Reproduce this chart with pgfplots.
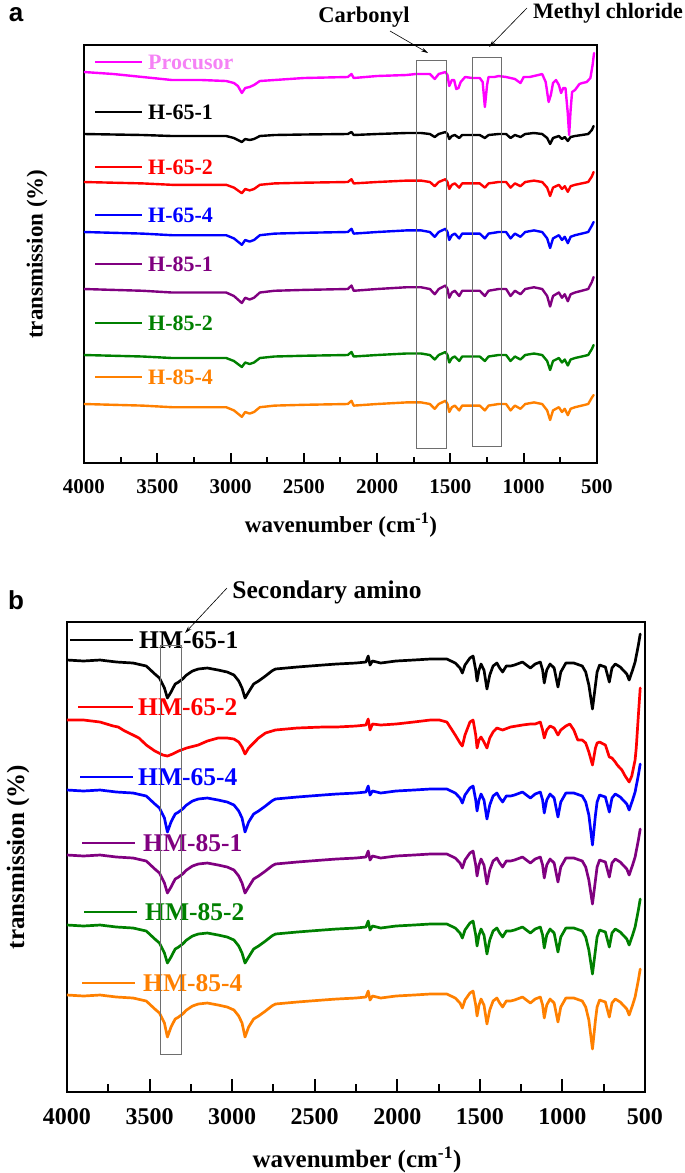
\documentclass[border=0pt]{standalone}
\usepackage{fontspec}
\setmainfont{Liberation Serif}
\newfontfamily\arialfont{Liberation Sans}
\usepackage{pgfplots}
\pgfplotsset{compat=1.18}
\usepackage{pgfplotstable}
\usetikzlibrary{arrows.meta}

\definecolor{cMag}{RGB}{255,0,255}
\definecolor{cMagTxt}{RGB}{245,130,245}
\definecolor{cRed}{RGB}{255,0,0}
\definecolor{cBlue}{RGB}{0,0,255}
\definecolor{cPur}{RGB}{128,0,128}
\definecolor{cGrn}{RGB}{0,128,0}
\definecolor{cOra}{RGB}{255,128,0}
\definecolor{cBox}{RGB}{110,110,110}

% panel a: y is the pixel row of the curve (axis runs top to bottom)
\pgfplotstableread{
w p
4000 72
3800 74
3600 77
3400 80
3200 80
3030 81
2977 83
2950 86
2923 93
2900 88
2870 87
2840 85
2800 81
2700 80
2500 78
2200 77
2175 74
2160 78
2000 76
1800 75
1737 74
1640 74
1607 79
1580 74
1534 72
1520 75
1508 86
1490 80
1475 80
1460 89
1445 88
1430 82
1400 77
1350 78
1300 78
1280 82
1265 107
1250 85
1240 77
1200 77
1171 76
1120 77
1090 78
1060 79
1022 83
1000 77
960 77
900 75
874 74
850 82
830 102
815 95
800 83
780 80
760 85
745 93
730 88
715 88
700 112
690 135
680 110
670 92
650 90
620 84
600 83
570 82
545 78
530 65
520 53
}\tabP

\pgfplotstableread{
w h1 h2 h3 h4 h5 h6
4000 134 182 232 289 355 404
3800 134.5 182.7 232.8 289.9 355.75 404.8
3600 135 183.4 233.6 290.75 356.5 405.6
3400 136 184.8 235.2 292.5 358 407.2
3200 136 184.8 235.2 292.5 358 407.2
3030 136 184.8 235.2 292.5 358 407.2
2977 138 187.6 238.4 296 361 410.4
2950 140 190.4 241.6 299.5 364 413.6
2923 142 193.2 244.8 303 367 416.8
2900 139 189 240 297.75 362.5 412
2870 140 190.4 241.6 299.5 364 413.6
2840 139 189 240 297.75 362.5 412
2800 136 184.8 235.2 292.5 358 407.2
2700 135 183.4 233.6 290.75 356.5 405.6
2500 134.5 182.7 232.8 289.9 355.75 404.8
2200 134 182 232 289 355 404
2175 132 179.2 228.8 285.5 352 400.8
2160 135 183.4 233.6 290.75 356.5 405.6
2000 134 182 232 289 355 404
1800 133 180.6 230.4 287.25 353.5 402.4
1700 133 180.6 230.4 287.25 353.5 402.4
1640 134 182 232 289 355 404
1607 137 186.2 236.8 294.25 359.5 408.8
1580 134 182 232 289 355 404
1534 132 179.2 228.8 285.5 352 400.8
1520 134 182 232 289 355 404
1508 139 189 240 297.75 362.5 412
1490 136 184.8 235.2 292.5 358 407.2
1470 135 183.4 233.6 290.75 356.5 405.6
1440 138 187.6 238.4 296 361 410.4
1420 135 183.4 233.6 290.75 356.5 405.6
1350 135 183.4 233.6 290.75 356.5 405.6
1300 135 183.4 233.6 290.75 356.5 405.6
1265 138 187.6 238.4 296 361 410.4
1240 135 183.4 233.6 290.75 356.5 405.6
1171 134 182 232 289 355 404
1120 134 182 232 289 355 404
1090 138 187.6 238.4 296 361 410.4
1060 135 183.4 233.6 290.75 356.5 405.6
1022 137 186.2 236.8 294.25 359.5 408.8
990 134 182 232 289 355 404
930 133 180.6 230.4 287.25 353.5 402.4
874 134 182 232 289 355 404
840 138 187.6 238.4 296 361 410.4
820 144 196 248 306.5 370 420
800 138 187.6 238.4 296 361 410.4
760 136 184.8 235.2 292.5 358 407.2
739 139 189 240 297.75 362.5 412
720 137 186.2 236.8 294.25 359.5 408.8
699 141 191.8 243.2 301.25 365.5 415.2
680 137 186.2 236.8 294.25 359.5 408.8
650 136 184.8 235.2 292.5 358 407.2
604 135 183.4 233.6 290.75 356.5 405.6
560 134 182 232 289 355 404
535 130 176.4 225.6 282 349 397.6
523 126 172 222 277 345 395
}\tabH

% panel b
\pgfplotstableread{
w b1 b3 b4 b5 b6
4000 660 790 855 925 995
3900 661 791 856 926 996
3800 660 790 855 925 995
3700 662 792 857 927 997
3600 663 793 858 928 998
3520 666 796 861 931 1001
3468 674 804 869 939 1009
3440 678 808 873 943 1013
3410 688 818 883 953 1023
3392 698 832 893 963 1037
3370 692 822 887 957 1027
3345 684 814 879 949 1019
3324 682 812 877 947 1017
3300 679 809 874 944 1014
3276 675 805 870 940 1010
3240 671 801 866 936 1006
3205 669 799 864 934 1004
3150 668 798 863 933 1003
3085 670 800 865 935 1005
3030 672 802 867 937 1007
2989 675 805 870 940 1010
2960 681 811 876 946 1016
2940 688 818 883 953 1023
2922 698 832 893 963 1037
2900 692 822 887 957 1027
2870 684 814 879 949 1019
2840 681 811 876 946 1016
2798 676 806 871 941 1011
2760 671 801 866 936 1006
2738 669 799 864 934 1004
2606 667 797 862 932 1002
2450 665 795 860 930 1000
2367 664 794 859 929 999
2250 663 793 858 928 998
2190 662 792 857 927 997
2176 656 786 851 921 991
2165 665 795 860 930 1000
2150 661 791 856 926 996
2100 663 793 858 928 998
2008 661 791 856 926 996
1900 660 790 855 925 995
1800 659 789 854 924 994
1700 659 789 854 924 994
1649 663 793 858 928 998
1620 668 798 863 933 1003
1606 673 803 868 938 1008
1590 665 795 860 930 1000
1560 658 788 853 923 993
1541 656 786 851 921 991
1525 670 800 865 935 1005
1517 681 811 876 946 1016
1505 670 800 865 935 1005
1493 664 794 859 929 999
1475 670 800 865 935 1005
1457 689 819 884 954 1024
1440 675 805 870 940 1010
1420 666 796 861 931 1001
1397 663 793 858 928 998
1380 668 798 863 933 1003
1362 672 802 867 937 1007
1340 666 796 861 931 1001
1314 666 796 861 931 1001
1290 665 795 860 930 1000
1242 662 792 857 927 997
1210 666 796 861 931 1001
1194 668 798 863 933 1003
1165 664 794 859 929 999
1134 662 792 857 927 997
1120 670 800 865 935 1005
1110 683 813 878 948 1018
1095 670 800 865 935 1005
1075 664 794 859 929 999
1050 668 798 863 933 1003
1027 687 817 882 952 1022
1010 672 802 867 937 1007
979 663 793 858 928 998
931 663 793 858 928 998
880 666 796 861 931 1001
859 672 802 867 937 1007
840 685 815 880 950 1020
818 709 845 904 974 1049
800 685 815 880 950 1020
790 672 802 867 937 1007
775 665 795 860 930 1000
740 667 797 862 932 1002
716 682 812 877 947 1017
700 668 798 863 933 1003
680 664 794 859 929 999
650 667 797 862 932 1002
610 674 804 869 939 1009
596 680 810 875 945 1015
575 670 800 865 935 1005
560 662 792 857 927 997
540 645 775 840 910 980
529 634 764 829 899 969
}\tabB

\pgfplotstableread{
w b2
4000 720
3900 720
3800 722
3720 726
3690 727
3650 731
3600 735
3564 738
3520 745
3468 751
3420 755
3392 756
3360 754
3324 751
3276 748
3205 745
3150 741
3085 738
3030 738
2989 739
2960 742
2940 747
2922 754
2900 748
2870 743
2840 738
2798 733
2738 730
2606 728
2450 727
2367 727
2250 726
2190 725
2176 719
2165 730
2150 724
2100 725
2008 724
1900 722
1800 720
1745 720
1700 722
1680 727
1649 735
1620 743
1606 746
1590 735
1560 722
1541 720
1525 735
1517 748
1505 740
1493 737
1475 742
1457 748
1440 738
1420 732
1397 728
1362 730
1314 727
1242 725
1194 724
1165 724
1134 722
1120 730
1110 738
1095 730
1075 726
1050 728
1027 735
1010 730
979 726
955 724
931 730
907 740
880 740
859 743
840 752
818 765
800 748
790 743
775 742
740 745
716 757
700 758
680 762
668 765
640 770
620 776
596 782
580 776
560 760
553 748
540 715
529 688
}\tabBb

\pgfplotsset{
  ftir/.style={
    scale only axis,
    x dir=reverse, y dir=reverse,
    xmin=500, xmax=4000,
    xtick={500,1000,...,4000},
    minor x tick num=1,
    ytick=\empty,
    xtick pos=bottom,
    tick align=inside,
    axis line style={line width=2.4pt},
    every tick/.style={black, line width=2pt},
    /pgf/number format/.cd, 1000 sep={}, assume math mode=true,
  },
  spec/.style={line width=2.4pt, line join=round, line cap=round},
}

\begin{document}
\begin{tikzpicture}[x=1pt,y=1pt]
\path[use as bounding box] (0,0) rectangle (685,-1173);

% ---------------- panel a ----------------
\begin{axis}[ftir,
  at={(84pt,-463pt)}, anchor=south west,
  width=513pt, height=418pt,
  ymin=45, ymax=463,
  major tick length=10pt, minor tick length=6pt,
  xticklabel style={font=\fontsize{21}{21}\selectfont\bfseries, yshift=-13pt},
]
\addplot[spec, cMag] table[x=w, y=p] {\tabP};
\addplot[spec, black] table[x=w, y=h1] {\tabH};
\addplot[spec, cRed] table[x=w, y=h2] {\tabH};
\addplot[spec, cBlue] table[x=w, y=h3] {\tabH};
\addplot[spec, cPur] table[x=w, y=h4] {\tabH};
\addplot[spec, cGrn] table[x=w, y=h5] {\tabH};
\addplot[spec, cOra] table[x=w, y=h6] {\tabH};
\end{axis}

% legend entries of panel a
\begin{scope}[every node/.style={anchor=west, inner sep=0pt, font=\fontsize{22}{22}\selectfont\bfseries}]
\draw[line width=2.6pt, cMag] (95,-62) -- (142,-62);
\node[text=cMagTxt] at (148,-62) {Procusor};
\draw[line width=2.6pt, black] (95,-112) -- (142,-112);
\node[text=black] at (148,-112) {H-65-1};
\draw[line width=2.6pt, cRed] (95,-167) -- (142,-167);
\node[text=cRed] at (148,-167) {H-65-2};
\draw[line width=2.6pt, cBlue] (95,-215) -- (142,-215);
\node[text=cBlue] at (148,-215) {H-65-4};
\draw[line width=2.6pt, cPur] (95,-264) -- (142,-264);
\node[text=cPur] at (148,-264) {H-85-1};
\draw[line width=2.6pt, cGrn] (95,-323) -- (142,-323);
\node[text=cGrn] at (148,-323) {H-85-2};
\draw[line width=2.6pt, cOra] (95,-377) -- (142,-377);
\node[text=cOra] at (148,-377) {H-85-4};
\end{scope}

\draw[cBox, line width=1pt] (416,-60) rectangle (446,-448);
\draw[cBox, line width=1pt] (472,-57) rectangle (501,-446);
\draw[line width=0.6pt, -{Stealth[length=7pt, width=4pt]}] (390,-31) -- (428,-53);
\draw[line width=0.6pt, -{Stealth[length=7pt, width=4pt]}] (527,-8) -- (489,-47);
\node[font=\fontsize{22.5}{22.5}\selectfont\bfseries, inner sep=0pt] at (364,-17) {Carbonyl};
\node[font=\fontsize{22}{22}\selectfont\bfseries, inner sep=0pt] at (608,-13) {Methyl chloride};
\node[font=\arialfont\bfseries\fontsize{26}{26}\selectfont, inner sep=0pt, anchor=base] at (16,-21) {a};
\node[font=\fontsize{23}{23}\selectfont\bfseries, inner sep=0pt, rotate=90] at (37,-254) {transmission (\%)};
\node[font=\fontsize{23}{23}\selectfont\bfseries, inner sep=0pt] at (341,-525) {wavenumber (cm\textsuperscript{-1})};

% ---------------- panel b ----------------
\begin{axis}[ftir,
  at={(67pt,-1092pt)}, anchor=south west,
  width=578pt, height=470pt,
  ymin=622, ymax=1092,
  major tick length=13pt, minor tick length=8pt,
  xticklabel style={font=\fontsize{24}{24}\selectfont\bfseries, yshift=-13pt},
]
\addplot[spec, line width=2.7pt, black] table[x=w, y=b1] {\tabB};
\addplot[spec, line width=2.7pt, cRed] table[x=w, y=b2] {\tabBb};
\addplot[spec, line width=2.7pt, cBlue] table[x=w, y=b3] {\tabB};
\addplot[spec, line width=2.7pt, cPur] table[x=w, y=b4] {\tabB};
\addplot[spec, line width=2.7pt, cGrn] table[x=w, y=b5] {\tabB};
\addplot[spec, line width=2.7pt, cOra] table[x=w, y=b6] {\tabB};
\end{axis}

\begin{scope}[every node/.style={anchor=west, inner sep=0pt, font=\fontsize{25.5}{25.5}\selectfont\bfseries}]
\draw[line width=2.8pt, black] (70,-640) -- (133,-640);
\node[text=black] at (139,-640) {HM-65-1};
\draw[line width=2.8pt, cRed] (78,-707) -- (133,-707);
\node[text=cRed] at (138,-707) {HM-65-2};
\draw[line width=2.8pt, cBlue] (80,-777) -- (133,-777);
\node[text=cBlue] at (138,-777) {HM-65-4};
\draw[line width=2.8pt, cPur] (82,-843) -- (135,-843);
\node[text=cPur] at (143,-843) {HM-85-1};
\draw[line width=2.8pt, cGrn] (84,-912) -- (137,-912);
\node[text=cGrn] at (145,-912) {HM-85-2};
\draw[line width=2.8pt, cOra] (82,-983) -- (135,-983);
\node[text=cOra] at (143,-983) {HM-85-4};
\end{scope}

\draw[cBox, line width=1pt] (160,-645) rectangle (181,-1054);
\draw[line width=0.6pt, -{Stealth[length=7pt, width=4pt]}] (227,-588) -- (185,-633);
\node[font=\fontsize{25.5}{25.5}\selectfont\bfseries, inner sep=0pt] at (327,-592) {Secondary amino};
\node[font=\arialfont\bfseries\fontsize{26}{26}\selectfont, inner sep=0pt, anchor=base] at (16,-609) {b};
\node[font=\fontsize{25}{25}\selectfont\bfseries, inner sep=0pt, rotate=90] at (18,-857) {transmission (\%)};
\node[font=\fontsize{25}{25}\selectfont\bfseries, inner sep=0pt] at (357,-1160) {wavenumber (cm\textsuperscript{-1})};

\end{tikzpicture}
\end{document}
